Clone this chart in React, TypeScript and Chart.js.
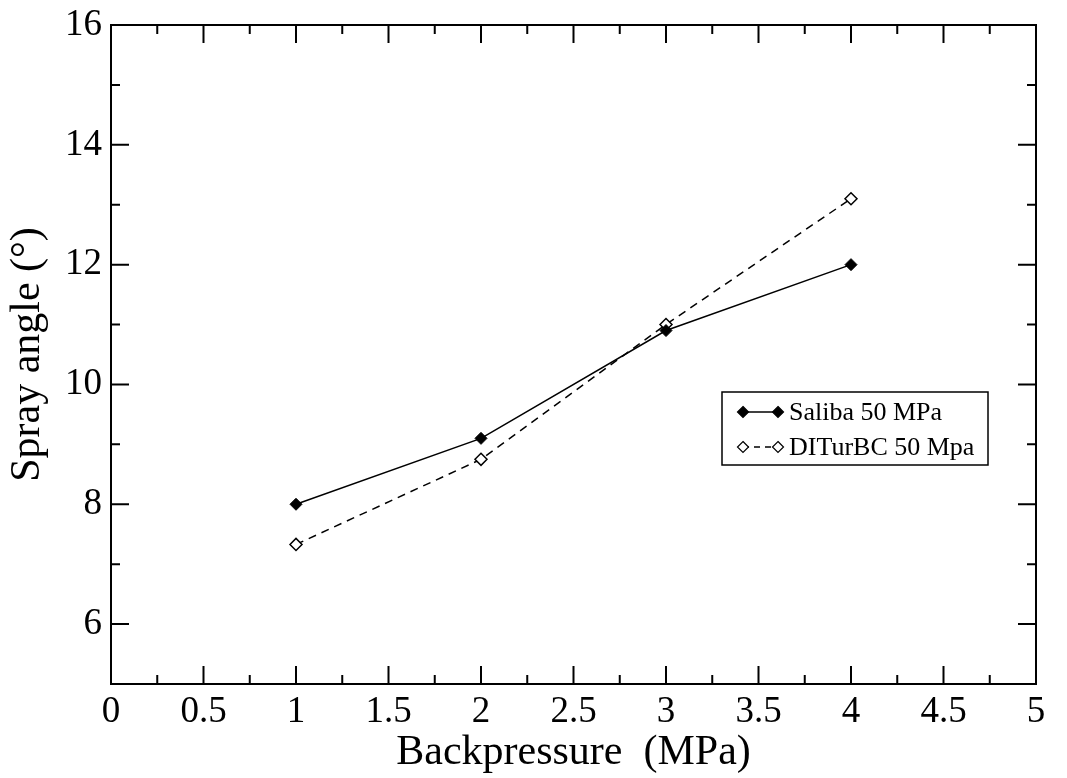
import React, { useEffect, useRef } from "react";
import { Chart, registerables } from "chart.js";

Chart.register(...registerables);

const xValues = [1, 2, 3, 4];
const salibaValues = [8.0, 9.1, 10.9, 12.0];
const diturbcValues = [7.33, 8.75, 11.0, 13.1];
const seriesNames = ["Saliba 50 MPa", "DITurBC 50 Mpa"];
const yMajorTicks = [6, 8, 10, 12, 14, 16];
const xTitle = "Backpressure  (MPa)";
const yTitle = "Spray angle (°)";

const FONT = "'Liberation Serif', 'Times New Roman', serif";

const framePlugin = {
  id: "frameTicks",
  afterDraw(chart: any) {
    const { ctx, chartArea } = chart;
    const xs = chart.scales.x;
    const ys = chart.scales.y;
    const { left, right, top, bottom } = chartArea;
    ctx.save();
    ctx.strokeStyle = "#000";
    ctx.lineWidth = 2;
    ctx.strokeRect(left, top, right - left, bottom - top);
    ctx.beginPath();
    for (let i = 0; i <= 20; i++) {
      const v = i * 0.25;
      const px = xs.getPixelForValue(v);
      const len = i % 2 === 0 ? 18 : 9;
      ctx.moveTo(px, bottom);
      ctx.lineTo(px, bottom - len);
      ctx.moveTo(px, top);
      ctx.lineTo(px, top + len);
    }
    for (let v = 5; v <= 16; v++) {
      const py = ys.getPixelForValue(v);
      const len = v % 2 === 0 ? 18 : 9;
      ctx.moveTo(left, py);
      ctx.lineTo(left + len, py);
      ctx.moveTo(right, py);
      ctx.lineTo(right - len, py);
    }
    ctx.stroke();

    // legend
    const bx = 722, by = 392, bw = 266, bh = 73;
    ctx.lineWidth = 1.5;
    ctx.fillStyle = "#fff";
    ctx.fillRect(bx, by, bw, bh);
    ctx.strokeRect(bx, by, bw, bh);
    const rows = [
      { y: 412, dash: [] as number[], fill: "#000" },
      { y: 447, dash: [6, 5], fill: "#fff" },
    ];
    const diamond = (x: number, y: number, r: number, fill: string) => {
      ctx.setLineDash([]);
      ctx.beginPath();
      ctx.moveTo(x, y - r);
      ctx.lineTo(x + r, y);
      ctx.lineTo(x, y + r);
      ctx.lineTo(x - r, y);
      ctx.closePath();
      ctx.fillStyle = fill;
      ctx.fill();
      ctx.lineWidth = 1.2;
      ctx.stroke();
    };
    rows.forEach((r, i) => {
      ctx.setLineDash(r.dash);
      ctx.lineWidth = 1.5;
      ctx.beginPath();
      ctx.moveTo(743, r.y);
      ctx.lineTo(778, r.y);
      ctx.stroke();
      diamond(743, r.y, 5.5, r.fill);
      diamond(778, r.y, 5.5, r.fill);
      ctx.fillStyle = "#000";
      ctx.font = `26px ${FONT}`;
      ctx.textBaseline = "middle";
      ctx.textAlign = "left";
      ctx.fillText(seriesNames[i], 789, r.y + 1);
    });
    ctx.restore();
  },
};

export default function App() {
  const ref = useRef<HTMLCanvasElement>(null);
  useEffect(() => {
    if (!ref.current) return;
    const chart = new Chart(ref.current, {
      type: "line",
      data: {
        datasets: [
          {
            label: seriesNames[0],
            data: xValues.map((x, i) => ({ x, y: salibaValues[i] })),
            borderColor: "#000",
            backgroundColor: "#000",
            borderWidth: 1.5,
            pointStyle: "rectRot",
            pointRadius: 6,
            pointBorderWidth: 1,
            pointBackgroundColor: "#000",
            tension: 0,
          },
          {
            label: seriesNames[1],
            data: xValues.map((x, i) => ({ x, y: diturbcValues[i] })),
            borderColor: "#000",
            backgroundColor: "#fff",
            borderWidth: 1.5,
            borderDash: [8, 6],
            pointStyle: "rectRot",
            pointRadius: 6,
            pointBorderWidth: 1.5,
            pointBackgroundColor: "#fff",
            tension: 0,
          },
        ],
      },
      options: {
        animation: false,
        responsive: false,
        maintainAspectRatio: false,
        layout: { padding: { top: 25, right: 31, left: 0, bottom: 0 } },
        plugins: { legend: { display: false }, tooltip: { enabled: false } },
        scales: {
          x: {
            type: "linear",
            min: 0,
            max: 5,
            grid: { display: false, drawTicks: false },
            border: { display: false },
            ticks: {
              stepSize: 0.5,
              color: "#000",
              font: { family: FONT, size: 37 },
              padding: 6,
              maxRotation: 0,
              autoSkip: false,
              callback: (v: any) => String(Number(v)),
            },
            title: {
              display: true,
              text: xTitle,
              color: "#000",
              font: { family: FONT, size: 42 },
              padding: { top: 0, bottom: 0 },
            },
            afterFit(scale: any) {
              scale.height = 94;
              scale.paddingLeft = 0;
              scale.paddingRight = 0;
            },
          },
          y: {
            type: "linear",
            min: 5,
            max: 16,
            grid: { display: false, drawTicks: false },
            border: { display: false },
            afterBuildTicks(scale: any) {
              scale.ticks = yMajorTicks.map((v) => ({ value: v }));
            },
            ticks: {
              color: "#000",
              font: { family: FONT, size: 37 },
              padding: 9,
              autoSkip: false,
            },
            title: {
              display: true,
              text: yTitle,
              color: "#000",
              font: { family: FONT, size: 42 },
              padding: { top: 3, bottom: 0 },
            },
            afterFit(scale: any) {
              scale.width = 111;
              scale.paddingTop = 0;
              scale.paddingBottom = 0;
            },
          },
        },
      },
      plugins: [framePlugin],
    });
    return () => chart.destroy();
  }, []);
  return (
    <div style={{ position: "fixed", left: 0, top: 0, width: 1067, height: 778, background: "#fff" }}>
      <canvas ref={ref} width={1067} height={778} style={{ width: 1067, height: 778 }} />
    </div>
  );
}
